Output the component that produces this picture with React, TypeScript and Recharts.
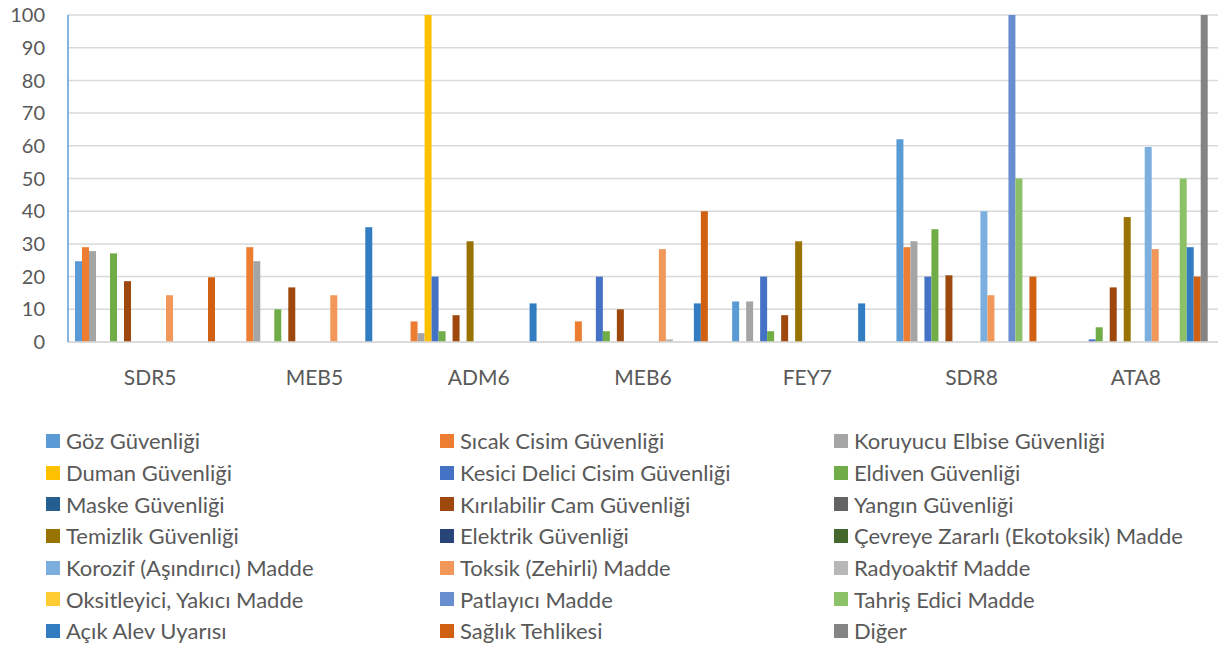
import React from "react";
import { BarChart, Bar, XAxis, YAxis, CartesianGrid, Legend } from "recharts";

const CATEGORIES = ["SDR5", "MEB5", "ADM6", "MEB6", "FEY7", "SDR8", "ATA8"];

const SERIES_NAMES = [
  "Göz Güvenliği",
  "Sıcak Cisim Güvenliği",
  "Koruyucu Elbise Güvenliği",
  "Duman Güvenliği",
  "Kesici Delici Cisim Güvenliği",
  "Eldiven Güvenliği",
  "Maske Güvenliği",
  "Kırılabilir Cam Güvenliği",
  "Yangın Güvenliği",
  "Temizlik Güvenliği",
  "Elektrik Güvenliği",
  "Çevreye Zararlı (Ekotoksik) Madde",
  "Korozif (Aşındırıcı) Madde",
  "Toksik (Zehirli) Madde",
  "Radyoaktif Madde",
  "Oksitleyici, Yakıcı Madde",
  "Patlayıcı Madde",
  "Tahriş Edici Madde",
  "Açık Alev Uyarısı",
  "Sağlık Tehlikesi",
  "Diğer",
];

// values per category, same order as CATEGORIES
const GOZ = [24.7, 0, 0, 0, 12.4, 62, 0];
const SICAK = [29, 29, 6.3, 6.3, 0, 29, 0];
const KORUYUCU = [27.8, 24.7, 2.7, 0, 12.4, 30.8, 0];
const DUMAN = [0, 0, 100, 0, 0, 0, 0];
const KESICI = [0, 0, 20, 20, 20, 20, 0.8];
const ELDIVEN = [27.1, 10, 3.3, 3.3, 3.3, 34.5, 4.5];
const MASKE = [0, 0, 0, 0, 0, 0, 0];
const KIRILABILIR = [18.6, 16.7, 8.2, 10, 8.2, 20.4, 16.7];
const YANGIN = [0, 0, 0, 0, 0, 0, 0];
const TEMIZLIK = [0, 0, 30.8, 0, 30.8, 0, 38.2];
const ELEKTRIK = [0, 0, 0, 0, 0, 0, 0];
const CEVREYE = [0, 0, 0, 0, 0, 0, 0];
const KOROZIF = [0, 0, 0, 0, 0, 40, 59.6];
const TOKSIK = [14.3, 14.3, 0, 28.4, 0, 14.3, 28.4];
const RADYOAKTIF = [0, 0, 0, 0.8, 0, 0, 0];
const OKSITLEYICI = [0, 0, 0, 0, 0, 0, 0];
const PATLAYICI = [0, 0, 0, 0, 0, 100, 0];
const TAHRIS = [0, 0, 0, 0, 0, 50, 50];
const ACIK_ALEV = [0, 35.1, 11.8, 11.8, 11.8, 0, 29];
const SAGLIK = [19.8, 0, 0, 40, 0, 20, 20];
const DIGER = [0, 0, 0, 0, 0, 0, 100];

const Y_TICKS = [0, 10, 20, 30, 40, 50, 60, 70, 80, 90, 100];

const SERIES_VALUES = [
  GOZ, SICAK, KORUYUCU, DUMAN, KESICI, ELDIVEN, MASKE, KIRILABILIR, YANGIN, TEMIZLIK, ELEKTRIK,
  CEVREYE, KOROZIF, TOKSIK, RADYOAKTIF, OKSITLEYICI, PATLAYICI, TAHRIS, ACIK_ALEV, SAGLIK, DIGER,
];

const COLORS = [
  "#5B9BD5", "#ED7D31", "#A5A5A5", "#FFC000", "#4472C4", "#70AD47", "#255E91",
  "#9E480E", "#636363", "#997300", "#264478", "#43682B", "#7CAFDD", "#F1975A",
  "#B7B7B7", "#FFCD33", "#698ED0", "#8CC168", "#327DC2", "#D26012", "#848484",
];

const FONT = "Lato, 'Open Sans', sans-serif";
const TEXT = "#595959";

const data = CATEGORIES.map((name, ci) => {
  const row: Record<string, string | number> = { name };
  SERIES_NAMES.forEach((s, si) => { row[s] = SERIES_VALUES[si][ci]; });
  return row;
});

function LegendGrid() {
  return (
    <div style={{ display: "grid", gridTemplateColumns: "394px 394px 394px", fontFamily: FONT, fontSize: 22, color: TEXT }}>
      {SERIES_NAMES.map((s, i) => (
        <div key={s} style={{ display: "flex", alignItems: "center", height: 31.7, whiteSpace: "nowrap" }}>
          <span style={{ width: 14, height: 14, background: COLORS[i], marginRight: 6, flexShrink: 0 }} />
          <span>{s}</span>
        </div>
      ))}
    </div>
  );
}

export default function App() {
  return (
    <div style={{ position: "absolute", left: 0, top: 0, width: 1218, height: 648, background: "#fff" }}>
      <BarChart
        width={1218}
        height={648}
        data={data}
        margin={{ top: 15, right: 0, left: 0, bottom: 266 }}
        barCategoryGap={7}
        barGap={0}
      >
        <CartesianGrid vertical={false} stroke="#D9D9D9" strokeWidth={1.5} />
        <XAxis
          dataKey="name"
          height={40}
          tickLine={false}
          tickSize={0}
          tickMargin={28}
          axisLine={{ stroke: "#D9D9D9", strokeWidth: 1.5 }}
          tick={{ fill: TEXT, fontSize: 21, fontFamily: FONT }}
        />
        <YAxis
          width={68}
          domain={[0, 100]}
          ticks={Y_TICKS}
          interval={0}
          tickLine={false}
          tickSize={0}
          tickMargin={23}
          axisLine={{ stroke: "#5B9BD5", strokeWidth: 1.5 }}
          tick={{ fill: TEXT, fontSize: 20, fontFamily: FONT }}
        />
        <Legend
          layout="horizontal"
          align="center"
          verticalAlign="middle"
          wrapperStyle={{ top: 425, left: 46, width: 1180 }}
          content={() => <LegendGrid />}
        />
        {SERIES_NAMES.map((s, i) => (
          <Bar key={s} dataKey={s} fill={COLORS[i]} isAnimationActive={false} />
        ))}
      </BarChart>
    </div>
  );
}
